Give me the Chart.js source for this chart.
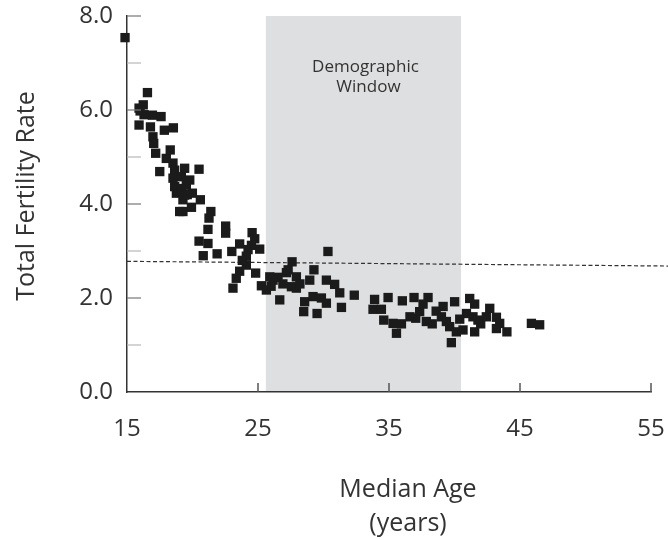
<!DOCTYPE html>
<html>
<head>
<meta charset="utf-8">
<script src="https://cdn.jsdelivr.net/npm/chart.js@4.4.1/dist/chart.umd.min.js"></script>
<style>
    body { margin: 0; background: #fff; }
    #wrap { width: 668px; height: 540px; }
</style>
</head>
<body>
<div id="wrap"><canvas id="tfrChart" width="668" height="540"></canvas></div>
<script>
// median age (years) of each country
const medianAge = [
    14.85, 16.56, 15.92, 16.24, 16.0, 15.92, 16.94, 17.6, 16.79, 17.85,
    18.54, 16.98, 17.04, 17.19, 18.0, 17.5, 18.51, 18.64, 19.4, 20.5,
    18.51, 19.15, 19.79, 18.64, 19.15, 19.53, 18.77, 19.4, 19.99, 19.27,
    20.6, 19.92, 19.02, 19.27, 21.4, 21.26, 21.18, 22.53, 22.53, 24.55,
    24.75, 20.5, 21.18, 23.6, 24.24, 25.13, 23.0, 20.82, 21.88, 24.11,
    30.34, 27.6, 29.27, 23.6, 24.11, 24.82, 23.34, 26.53, 27.17, 27.93,
    28.95, 25.26, 25.64, 26.15, 23.09, 27.55, 27.93, 30.22, 30.85, 31.24,
    32.35, 26.66, 28.56, 29.2, 29.84, 30.22, 28.49, 29.51, 31.37, 33.9,
    34.93, 33.78, 34.42, 36.02, 36.91, 37.98, 37.6, 34.6, 35.31, 35.95,
    35.57, 37.04, 37.85, 37.34, 39.13, 40.01, 39.0, 39.38, 39.63, 39.76,
    40.14, 40.65, 41.16, 41.54, 40.91, 41.41, 41.79, 41.54, 42.69, 42.43,
    43.2, 43.45, 44.0, 43.2, 45.87, 46.5, 26.0, 26.9, 27.3, 28.2,
    25.9, 23.8, 38.6, 38.3, 42.0, 36.6, 40.4, 18.3, 19.6, 24.5, 16.3
];
// total fertility rate, same order
const fertilityRate = [
    7.54, 6.37, 6.04, 6.11, 5.98, 5.68, 5.89, 5.86, 5.64, 5.57,
    5.62, 5.43, 5.29, 5.08, 4.97, 4.69, 4.87, 4.72, 4.76, 4.74,
    4.55, 4.58, 4.51, 4.37, 4.33, 4.4, 4.23, 4.19, 4.23, 4.09,
    4.09, 3.93, 3.84, 3.84, 3.84, 3.7, 3.46, 3.53, 3.38, 3.39,
    3.26, 3.21, 3.16, 3.15, 3.03, 3.04, 2.99, 2.9, 2.94, 2.89,
    2.99, 2.77, 2.6, 2.57, 2.7, 2.53, 2.42, 2.44, 2.54, 2.45,
    2.38, 2.26, 2.17, 2.38, 2.21, 2.24, 2.21, 2.38, 2.29, 2.11,
    2.06, 1.96, 1.92, 2.03, 2.0, 1.89, 1.71, 1.67, 1.8, 1.97,
    2.01, 1.76, 1.76, 1.94, 2.01, 2.01, 1.87, 1.53, 1.46, 1.45,
    1.25, 1.57, 1.5, 1.71, 1.82, 1.92, 1.6, 1.5, 1.39, 1.05,
    1.28, 1.32, 1.99, 1.87, 1.67, 1.6, 1.53, 1.28, 1.78, 1.6,
    1.59, 1.46, 1.28, 1.35, 1.46, 1.43, 2.25, 2.3, 2.6, 2.3,
    2.45, 2.8, 1.72, 1.45, 1.45, 1.6, 1.55, 5.15, 4.2, 3.12, 5.9
];

// dashed reference line
const refLineAge = [15, 56.3];
const refLineRate = [2.78, 2.68];

// shaded demographic window
const windowRange = [25.6, 40.5];
const windowLabel = ["Demographic", "Window"];

const xTicks = [15, 25, 35, 45, 55];
const yMajorTicks = [0, 2, 4, 6, 8];
const yMinorTicks = [1, 3, 5, 7];

const xTitle = ["Median Age", "(years)"];
const yTitle = "Total Fertility Rate";

const textColor = "#333";
const fontFamily = "'Open Sans', sans-serif";

// band, labels, inward ticks and axis titles
const decorPlugin = {
    id: "decor",
    beforeDraw: function (chart) {
        const ctx = chart.ctx;
        const x = chart.scales.x;
        const y = chart.scales.y;
        const left = x.getPixelForValue(windowRange[0]);
        const right = x.getPixelForValue(windowRange[1]);
        const top = y.getPixelForValue(8);
        const bottom = y.getPixelForValue(0);
        ctx.save();
        ctx.fillStyle = "#dedfe1";
        ctx.fillRect(left, top, right - left, bottom - top);

        ctx.fillStyle = textColor;
        ctx.font = "17px " + fontFamily;
        ctx.textAlign = "center";
        ctx.textBaseline = "alphabetic";
        let mid = (left + right) / 2;
        ctx.fillText(windowLabel[0], mid + 2, top + 56);
        ctx.fillText(windowLabel[1], mid + 5, top + 76);
        ctx.restore();
    },
    afterDraw: function (chart) {
        const ctx = chart.ctx;
        const x = chart.scales.x;
        const y = chart.scales.y;
        const area = chart.chartArea;
        ctx.save();

        // y ticks point into the plot
        ctx.lineWidth = 1.2;
        ctx.strokeStyle = "#b8b8b8";
        yMinorTicks.forEach(function (v) {
            let py = y.getPixelForValue(v);
            ctx.beginPath();
            ctx.moveTo(area.left, py);
            ctx.lineTo(area.left + 14, py);
            ctx.stroke();
        });
        ctx.strokeStyle = "#777";
        yMajorTicks.slice(1).forEach(function (v) {
            let py = y.getPixelForValue(v);
            ctx.beginPath();
            ctx.moveTo(area.left, py);
            ctx.lineTo(area.left + 14, py);
            ctx.stroke();
        });

        // x ticks point up
        ctx.lineWidth = 1.5;
        ctx.strokeStyle = "#555";
        xTicks.slice(1).forEach(function (v) {
            let px = x.getPixelForValue(v);
            ctx.beginPath();
            ctx.moveTo(px, area.bottom);
            ctx.lineTo(px, area.bottom - 9);
            ctx.stroke();
        });

        // axis titles
        ctx.fillStyle = textColor;
        ctx.font = "25px " + fontFamily;
        ctx.textAlign = "center";
        ctx.textBaseline = "alphabetic";
        ctx.fillText(xTitle[0], 408, 497);
        ctx.fillText(xTitle[1], 408, 531);

        ctx.translate(34, 196);
        ctx.rotate(-Math.PI / 2);
        ctx.fillText(yTitle, 0, 0);
        ctx.restore();
    },
};

function buildPoints(xs, ys) {
    return xs.map(function (v, i) {
        return { x: v, y: ys[i] };
    });
}

function drawChart() {
    let ctx = document.getElementById("tfrChart").getContext("2d");
    new Chart(ctx, {
        type: "scatter",
        data: {
            datasets: [
                {
                    data: buildPoints(medianAge, fertilityRate),
                    pointStyle: "rect",
                    pointRadius: 6.6,
                    pointHoverRadius: 6.6,
                    backgroundColor: "#1b1b1b",
                    borderWidth: 0,
                    clip: false,
                },
                {
                    type: "line",
                    data: buildPoints(refLineAge, refLineRate),
                    borderColor: "#333",
                    borderWidth: 1.2,
                    borderDash: [4, 2.5],
                    pointRadius: 0,
                    fill: false,
                    clip: false,
                },
            ],
        },
        options: {
            responsive: false,
            animation: false,
            events: [],
            layout: { padding: { top: 16, right: 17, left: 0, bottom: 0 } },
            plugins: {
                legend: { display: false },
                tooltip: { enabled: false },
            },
            scales: {
                x: {
                    type: "linear",
                    min: 15,
                    max: 55,
                    afterFit: function (scale) {
                        scale.height = 148;
                        scale.paddingLeft = 0;
                        scale.paddingRight = 0;
                    },
                    afterBuildTicks: function (scale) {
                        scale.ticks = xTicks.map(function (v) {
                            return { value: v };
                        });
                    },
                    grid: { display: false, drawTicks: false },
                    border: { display: true, color: "#333", width: 1.5 },
                    ticks: {
                        color: textColor,
                        padding: 23,
                        maxRotation: 0,
                        font: { family: fontFamily, size: 24 },
                    },
                },
                y: {
                    min: 0,
                    max: 8,
                    afterFit: function (scale) {
                        scale.width = 127;
                        scale.paddingTop = 0;
                        scale.paddingBottom = 0;
                    },
                    afterBuildTicks: function (scale) {
                        scale.ticks = yMajorTicks.map(function (v) {
                            return { value: v };
                        });
                    },
                    grid: { display: false, drawTicks: false },
                    border: { display: true, color: "#333", width: 1.5 },
                    ticks: {
                        color: textColor,
                        padding: 14,
                        font: { family: fontFamily, size: 24 },
                        callback: function (value) {
                            return Number(value).toFixed(1);
                        },
                    },
                },
            },
        },
        plugins: [decorPlugin],
    });
}

document.addEventListener("DOMContentLoaded", function () {
    drawChart();
});
</script>
</body>
</html>
